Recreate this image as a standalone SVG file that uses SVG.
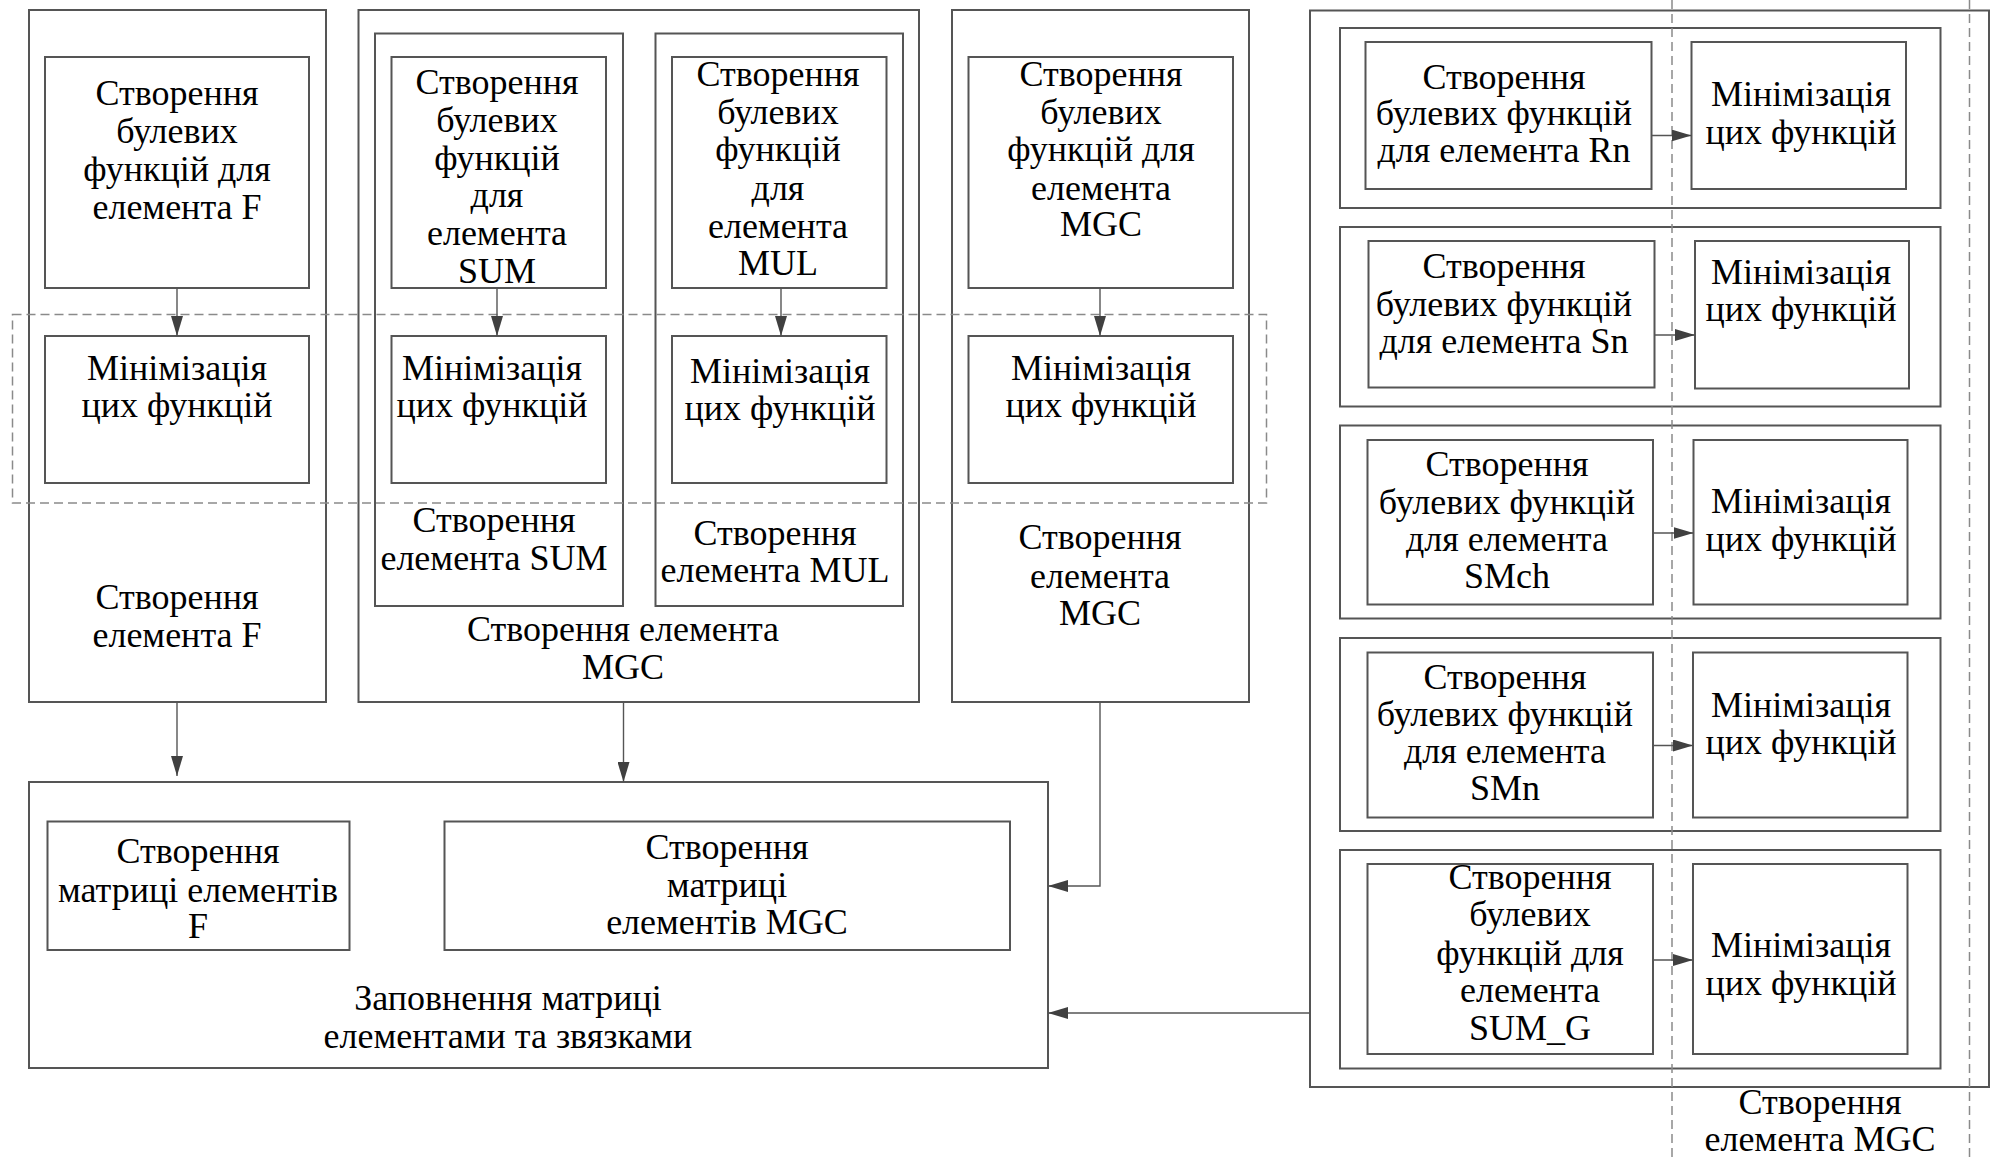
<svg xmlns="http://www.w3.org/2000/svg" width="1995" height="1157" viewBox="0 0 1995 1157">
  <defs>
    <style>
      .box { fill: none; stroke: #555; stroke-width: 2; }
      .dash { fill: none; stroke: #8a8a8a; stroke-width: 1.5; stroke-dasharray: 9 5; }
      .wire { fill: none; stroke: #555; stroke-width: 1.4; }
      text { font-family: "Liberation Serif", "Times New Roman", serif; font-size: 36px; fill: #000; text-anchor: middle; }
    </style>
    <marker id="arrow" markerUnits="userSpaceOnUse" markerWidth="20" markerHeight="12" refX="20" refY="6" orient="auto">
      <path d="M0,0 L20,6 L0,12 z" fill="#404040"/>
    </marker>
  </defs>
  <rect width="1995" height="1157" fill="#fff"/>

  <!-- element F -->
  <g id="elem-f">
    <rect class="box" x="29" y="10" width="297" height="692"/>
    <g id="f-bool">
      <rect class="box" x="45" y="57" width="264" height="231"/>
      <text x="177" y="105">Створення</text>
      <text x="177" y="143">булевих</text>
      <text x="177" y="181">функцій для</text>
      <text x="177" y="219">елемента F</text>
    </g>
    <g id="f-min">
      <rect class="box" x="45" y="336" width="264" height="147"/>
      <text x="177" y="380">Мінімізація</text>
      <text x="177" y="417">цих функцій</text>
    </g>
    <text x="177" y="609">Створення</text>
    <text x="177" y="647">елемента F</text>
  </g>

  <!-- element MGC built from SUM and MUL -->
  <g id="elem-mgc-a">
    <rect class="box" x="358.5" y="10" width="560.5" height="692"/>
    <g id="sum">
      <rect class="box" x="375" y="33.5" width="248" height="572.5"/>
      <g id="sum-bool">
        <rect class="box" x="391.5" y="57" width="214.5" height="231"/>
        <text x="497" y="94">Створення</text>
        <text x="497" y="132">булевих</text>
        <text x="497" y="170">функцій</text>
        <text x="497" y="207">для</text>
        <text x="497" y="245">елемента</text>
        <text x="497" y="283">SUM</text>
      </g>
      <g id="sum-min">
        <rect class="box" x="391.5" y="336" width="214.5" height="147"/>
        <text x="492" y="380">Мінімізація</text>
        <text x="492" y="417">цих функцій</text>
      </g>
      <text x="494" y="532">Створення</text>
      <text x="494" y="570">елемента SUM</text>
    </g>
    <g id="mul">
      <rect class="box" x="655.5" y="33.5" width="247.5" height="572.5"/>
      <g id="mul-bool">
        <rect class="box" x="672" y="57" width="214.5" height="231"/>
        <text x="778" y="86">Створення</text>
        <text x="778" y="124">булевих</text>
        <text x="778" y="161">функцій</text>
        <text x="778" y="200">для</text>
        <text x="778" y="238">елемента</text>
        <text x="778" y="275">MUL</text>
      </g>
      <g id="mul-min">
        <rect class="box" x="672" y="336" width="214.5" height="147"/>
        <text x="780" y="383">Мінімізація</text>
        <text x="780" y="420">цих функцій</text>
      </g>
      <text x="775" y="545">Створення</text>
      <text x="775" y="582">елемента MUL</text>
    </g>
    <text x="623" y="641">Створення елемента</text>
    <text x="623" y="679">MGC</text>
  </g>

  <!-- element MGC -->
  <g id="elem-mgc-b">
    <rect class="box" x="952" y="10" width="297" height="692"/>
    <g id="mgc-bool">
      <rect class="box" x="968.5" y="57" width="264.5" height="231"/>
      <text x="1101" y="86">Створення</text>
      <text x="1101" y="124">булевих</text>
      <text x="1101" y="161">функцій для</text>
      <text x="1101" y="200">елемента</text>
      <text x="1101" y="236">MGC</text>
    </g>
    <g id="mgc-min">
      <rect class="box" x="968.5" y="336" width="264.5" height="147"/>
      <text x="1101" y="380">Мінімізація</text>
      <text x="1101" y="417">цих функцій</text>
    </g>
    <text x="1100" y="549">Створення</text>
    <text x="1100" y="588">елемента</text>
    <text x="1100" y="625">MGC</text>
  </g>

  <!-- matrix filling -->
  <g id="matrix">
    <rect class="box" x="29" y="782" width="1019" height="286"/>
    <g id="matrix-f">
      <rect class="box" x="47.5" y="821.5" width="302" height="128.5"/>
      <text x="198" y="863">Створення</text>
      <text x="198" y="902">матриці елементів</text>
      <text x="198" y="938">F</text>
    </g>
    <g id="matrix-mgc">
      <rect class="box" x="444.5" y="821.5" width="565.5" height="128.5"/>
      <text x="727" y="859">Створення</text>
      <text x="727" y="897">матриці</text>
      <text x="727" y="934">елементів MGC</text>
    </g>
    <text x="508" y="1010">Заповнення матриці</text>
    <text x="508" y="1048">елементами та звязками</text>
  </g>

  <!-- element MGC from primitive elements -->
  <g id="elem-mgc-c">
    <rect class="box" x="1310" y="10.5" width="679" height="1076.5"/>
    <g id="row-rn">
      <rect class="box" x="1340" y="28" width="600.5" height="180"/>
      <rect class="box" x="1365.5" y="42" width="286" height="147"/>
      <rect class="box" x="1691.5" y="42" width="214.5" height="147"/>
      <text x="1504" y="89">Створення</text>
      <text x="1504" y="125">булевих функцій</text>
      <text x="1504" y="162">для елемента Rn</text>
      <text x="1801" y="106">Мінімізація</text>
      <text x="1801" y="144">цих функцій</text>
    </g>
    <g id="row-sn">
      <rect class="box" x="1340" y="227" width="600.5" height="179.5"/>
      <rect class="box" x="1368.5" y="241" width="286" height="146.5"/>
      <rect class="box" x="1695" y="241" width="214" height="147.5"/>
      <text x="1504" y="278">Створення</text>
      <text x="1504" y="316">булевих функцій</text>
      <text x="1504" y="353">для елемента Sn</text>
      <text x="1801" y="284">Мінімізація</text>
      <text x="1801" y="321">цих функцій</text>
    </g>
    <g id="row-smch">
      <rect class="box" x="1340" y="425.5" width="600.5" height="193"/>
      <rect class="box" x="1367.5" y="440" width="285.5" height="164.5"/>
      <rect class="box" x="1693.5" y="440" width="214" height="164.5"/>
      <text x="1507" y="476">Створення</text>
      <text x="1507" y="514">булевих функцій</text>
      <text x="1507" y="551">для елемента</text>
      <text x="1507" y="588">SMch</text>
      <text x="1801" y="513">Мінімізація</text>
      <text x="1801" y="551">цих функцій</text>
    </g>
    <g id="row-smn">
      <rect class="box" x="1340" y="638" width="600.5" height="193"/>
      <rect class="box" x="1367.5" y="652.5" width="285.5" height="165"/>
      <rect class="box" x="1693" y="652.5" width="214.5" height="165"/>
      <text x="1505" y="689">Створення</text>
      <text x="1505" y="726">булевих функцій</text>
      <text x="1505" y="763">для елемента</text>
      <text x="1505" y="800">SMn</text>
      <text x="1801" y="717">Мінімізація</text>
      <text x="1801" y="754">цих функцій</text>
    </g>
    <g id="row-sumg">
      <rect class="box" x="1340" y="850" width="600.5" height="218.5"/>
      <rect class="box" x="1367.5" y="864" width="285.5" height="190"/>
      <rect class="box" x="1693" y="864" width="214.5" height="190"/>
      <text x="1530" y="889">Створення</text>
      <text x="1530" y="926">булевих</text>
      <text x="1530" y="965">функцій для</text>
      <text x="1530" y="1002">елемента</text>
      <text x="1530" y="1040">SUM_G</text>
      <text x="1801" y="957">Мінімізація</text>
      <text x="1801" y="995">цих функцій</text>
    </g>
    <text x="1820" y="1114">Створення</text>
    <text x="1820" y="1151">елемента MGC</text>
  </g>

  <!-- stage boundaries -->
  <g id="stages">
    <rect class="dash" x="12.5" y="314.5" width="1254" height="188.5"/>
    <line class="dash" x1="1672" y1="0" x2="1672" y2="1157"/>
    <line class="dash" x1="1969.5" y1="0" x2="1969.5" y2="1157"/>
  </g>

  <!-- connectors -->
  <g id="connectors">
    <line class="wire" x1="177" y1="288" x2="177" y2="336" marker-end="url(#arrow)"/>
    <line class="wire" x1="497" y1="288" x2="497" y2="336" marker-end="url(#arrow)"/>
    <line class="wire" x1="781" y1="288" x2="781" y2="336" marker-end="url(#arrow)"/>
    <line class="wire" x1="1100" y1="288" x2="1100" y2="336" marker-end="url(#arrow)"/>
    <line class="wire" x1="177" y1="702" x2="177" y2="776" marker-end="url(#arrow)"/>
    <line class="wire" x1="623.5" y1="702" x2="623.5" y2="782" marker-end="url(#arrow)"/>
    <polyline class="wire" points="1100,702 1100,886 1048,886" marker-end="url(#arrow)"/>
    <line class="wire" x1="1310" y1="1013" x2="1048" y2="1013" marker-end="url(#arrow)"/>
    <line class="wire" x1="1651.5" y1="135.5" x2="1691.5" y2="135.5" marker-end="url(#arrow)"/>
    <line class="wire" x1="1654.5" y1="335" x2="1695" y2="335" marker-end="url(#arrow)"/>
    <line class="wire" x1="1653" y1="533" x2="1693.5" y2="533" marker-end="url(#arrow)"/>
    <line class="wire" x1="1653" y1="745.5" x2="1693" y2="745.5" marker-end="url(#arrow)"/>
    <line class="wire" x1="1653" y1="960" x2="1693" y2="960" marker-end="url(#arrow)"/>
  </g>
</svg>
